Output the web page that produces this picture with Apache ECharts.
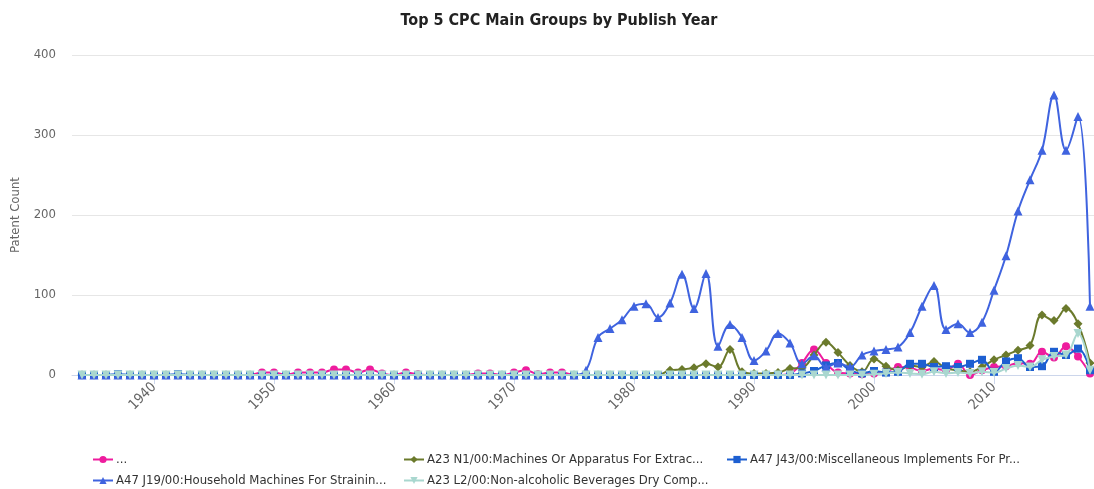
<!DOCTYPE html>
<html>
<head>
<meta charset="utf-8">
<script src="https://cdn.jsdelivr.net/npm/echarts@6/dist/echarts.min.js"></script>
<style>
html,body{margin:0;padding:0;background:#fff;}
#chart{width:1094px;height:489px;}
</style>
</head>
<body>
<div id="chart"></div>
<script>
// Years 1934..2018
const years = [];
for (let y = 1934; y <= 2018; y++) years.push(y);

const xTickLabels = [1940, 1950, 1960, 1970, 1980, 1990, 2000, 2010];
const yTicks = [0, 100, 200, 300, 400];

const seriesNames = [
  "...",
  "A23 N1/00:Machines Or Apparatus For Extrac...",
  "A47 J43/00:Miscellaneous Implements For Pr...",
  "A47 J19/00:Household Machines For Strainin...",
  "A23 L2/00:Non-alcoholic Beverages Dry Comp..."
];

// "..." (pink)
const pinkValues = [
  0,0,0,0,0,0,0,0,0,0,      // 1934-1943
  0,0,0,0,0,3,3,0,3,3,      // 1944-1953
  3,7,7,3,7,2,0,3,1,0,      // 1954-1963
  0,0,0,2,2,0,3,6,1,3,      // 1964-1973
  3,0,0,0,0,0,0,0,0,0,      // 1974-1983
  0,0,0,0,0,0,0,0,0,2,      // 1984-1993
  15,32,15,3,2,1,2,4,10,9,  // 1994-2003
  5,8,6,14,0,6,10,11,15,14, // 2004-2013
  29,22,36,23,2             // 2014-2018
];

// A23 N1/00 (olive)
const oliveValues = [
  0,0,0,0,0,0,0,0,0,0,      // 1934-1943
  0,0,0,0,0,0,0,0,0,0,      // 1944-1953
  0,0,0,0,0,0,0,0,0,0,      // 1954-1963
  0,0,0,0,0,0,0,0,0,0,      // 1964-1973
  0,0,0,0,0,0,0,0,0,6,      // 1974-1983
  7,9,14,10,32,4,2,2,3,8,   // 1984-1993
  9,25,41,28,12,4,20,11,6,12, // 1994-2003
  10,17,8,6,4,10,19,25,31,37, // 2004-2013
  75,68,83,64,15            // 2014-2018
];

// A47 J43/00 (blue squares)
const squareValues = [
  0,0,0,1,0,0,0,0,1,0,      // 1934-1943
  0,0,0,0,0,0,0,0,0,0,      // 1944-1953
  0,0,0,0,0,0,0,0,0,0,      // 1954-1963
  0,0,0,0,0,0,0,0,0,0,      // 1964-1973
  0,0,0,0,0,0,0,0,0,0,      // 1974-1983
  0,0,0,0,0,0,0,0,0,0,      // 1984-1993
  2,5,12,15,6,2,5,3,4,14,   // 1994-2003
  14,10,11,10,14,19,4,17,21,10, // 2004-2013
  11,29,25,33,6             // 2014-2018
];

// A47 J19/00 (blue triangles)
const triangleValues = [
  0,0,0,0,0,0,0,0,0,0,      // 1934-1943
  0,0,0,0,0,0,0,0,0,0,      // 1944-1953
  0,0,0,0,0,0,0,0,0,0,      // 1954-1963
  0,0,0,0,0,0,0,0,0,0,      // 1964-1973
  0,0,6,47,58,69,86,89,72,90, // 1974-1983
  126,83,127,36,63,47,18,30,52,40, // 1984-1993
  14,24,10,15,10,25,30,32,35,53,   // 1994-2003
  86,112,57,64,53,66,106,149,205,244, // 2004-2013
  281,350,281,323,86        // 2014-2018
];

// A23 L2/00 (light teal)
const tealValues = [
  0,0,0,0,0,0,0,0,0,0,      // 1934-1943
  0,0,0,0,0,0,0,0,0,0,      // 1944-1953
  0,0,0,0,0,0,0,0,0,0,      // 1954-1963
  0,0,0,0,0,0,0,0,0,0,      // 1964-1973
  0,0,0,0,0,0,0,0,0,0,      // 1974-1983
  0,0,0,0,0,0,0,0,0,0,      // 1984-1993
  0,0,0,0,0,0,1,2,3,2,      // 1994-2003
  1,4,2,3,2,4,3,8,12,10,    // 2004-2013
  19,23,25,52,6             // 2014-2018
];

const colors = ["#ee1c9e", "#6b7a2c", "#1d5fd1", "#3f63df", "#a9d7cf"];
const symbols = ["circle", "diamond", "rect", "triangle", "triangle"];
const rotations = [0, 0, 0, 0, 180];
const allValues = [pinkValues, oliveValues, squareValues, triangleValues, tealValues];

const FONT = '"DejaVu Sans Condensed", "Liberation Sans Narrow", "Open Sans", sans-serif';

const series = seriesNames.map((name, k) => ({
  name: name,
  type: 'line',
  smooth: 0.4,
  symbol: symbols[k],
  symbolRotate: rotations[k],
  symbolSize: k === 2 ? 8 : (k === 0 ? 8 : 9),
  showSymbol: true,
  color: colors[k],
  lineStyle: { width: 2, color: colors[k] },
  itemStyle: { color: colors[k] },
  emphasis: { disabled: true },
  data: years.map((y, i) => [y, allValues[k][i]]),
  z: 2 + k
}));

const legendPos = [
  { left: 87, top: 448 },
  { left: 398, top: 448 },
  { left: 721, top: 448 },
  { left: 87, top: 469 },
  { left: 398, top: 469 }
];

const legends = seriesNames.map((name, k) => ({
  data: [name],
  left: legendPos[k].left,
  top: legendPos[k].top,
  orient: 'horizontal',
  itemWidth: 20,
  itemHeight: 9,
  itemGap: 4,
  selectedMode: false,
  textStyle: { color: '#333', fontSize: 13, fontFamily: FONT, padding: [0, 0, 0, -2] }
}));

const chart = echarts.init(document.getElementById('chart'), null, { renderer: 'canvas' });
chart.setOption({
  animation: false,
  backgroundColor: '#ffffff',
  title: {
    text: 'Top 5 CPC Main Groups by Publish Year',
    left: 554,
    textAlign: 'center',
    top: 8,
    textStyle: { color: '#222', fontSize: 16, fontWeight: 'bold', fontFamily: FONT }
  },
  legend: legends,
  grid: { left: 72, right: 0, top: 55, bottom: 114, containLabel: false },
  xAxis: {
    type: 'value',
    min: 1934 - 10 / 12,
    max: 2018 + 4 / 12,
    splitLine: { show: false },
    axisLine: { show: true, lineStyle: { color: '#ccd6eb', width: 1 } },
    axisTick: { show: true, customValues: xTickLabels, length: 9, lineStyle: { color: '#ccd6eb' } },
    axisLabel: {
      customValues: xTickLabels,
      rotate: 45,
      margin: 10,
      color: '#666',
      fontSize: 14,
      fontFamily: FONT,
      formatter: v => String(v)
    }
  },
  yAxis: {
    type: 'value',
    min: yTicks[0],
    max: yTicks[yTicks.length - 1],
    interval: 100,
    name: 'Patent Count',
    nameLocation: 'middle',
    nameGap: 50,
    nameTextStyle: { color: '#666', fontSize: 13, fontFamily: FONT },
    axisLine: { show: false },
    axisTick: { show: false },
    splitLine: { lineStyle: { color: '#e6e6e6', width: 1 } },
    axisLabel: { color: '#666', fontSize: 13, margin: 16, fontFamily: FONT }
  },
  series: series
});
</script>
</body>
</html>
